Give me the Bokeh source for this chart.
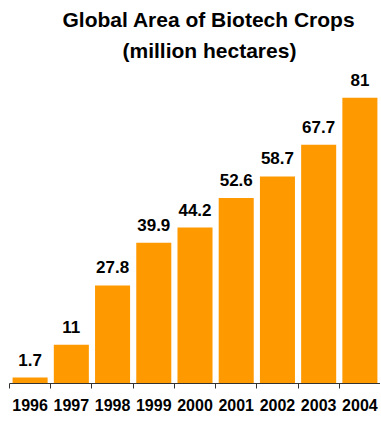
from bokeh.plotting import figure
from bokeh.models import ColumnDataSource, Range1d, Title, LabelSet, FixedTicker
from bokeh.core.properties import value
from bokeh.embed import file_html
from bokeh.resources import INLINE

years = ["1996", "1997", "1998", "1999", "2000", "2001", "2002", "2003", "2004"]
areas = [1.7, 11, 27.8, 39.9, 44.2, 52.6, 58.7, 67.7, 81]
area_labels = ["1.7", "11", "27.8", "39.9", "44.2", "52.6", "58.7", "67.7", "81"]

FONT = "Liberation Sans"
ORANGE = "#FF9900"

n = len(years)
centers = [i + 0.5 for i in range(n)]
source = ColumnDataSource(dict(x=centers, year=years, area=areas, label=area_labels))

p = figure(width=380, height=413, x_range=Range1d(0, n), y_range=Range1d(0, 91),
           output_backend="svg", toolbar_location=None,
           min_border_left=9, min_border_right=0, min_border_top=0, min_border_bottom=0)

p.vbar(x="x", top="area", width=0.85, bottom=0, source=source,
       fill_color=ORANGE, line_color=None)

labels = LabelSet(x="x", y="area", text="label", source=source,
                  text_align="center", text_baseline="alphabetic", y_offset=12,
                  text_font=value(FONT), text_font_size=value("17px"),
                  text_font_style=value("bold"), text_color=value("#000000"))
p.add_layout(labels)

p.yaxis.visible = False
p.xgrid.visible = False
p.ygrid.visible = False
p.outline_line_color = None

ax = p.xaxis[0]
ax.ticker = FixedTicker(ticks=centers, minor_ticks=list(range(n + 1)))
ax.major_label_overrides = {c: y for c, y in zip(centers, years)}
ax.major_tick_in = 0
ax.major_tick_out = 0
ax.minor_tick_in = 0
ax.minor_tick_out = 5
ax.minor_tick_line_color = "#333333"
ax.axis_line_color = "#333333"
ax.axis_line_width = 1
ax.major_label_standoff = 10
ax.major_label_text_font = FONT
ax.major_label_text_font_size = "16px"
ax.major_label_text_font_style = "bold"
ax.major_label_text_color = "#000000"

p.add_layout(Title(text="(million hectares)", align="left", offset=113, standoff=2,
                   text_font=FONT, text_font_size="21px", text_font_style="bold",
                   text_color="#000000"), "above")
p.add_layout(Title(text="Global Area of Biotech Crops", align="left", offset=53,
                   text_font=FONT, text_font_size="21px", text_font_style="bold",
                   text_color="#000000"), "above")

open("out.html", "w").write(file_html(p, INLINE))
